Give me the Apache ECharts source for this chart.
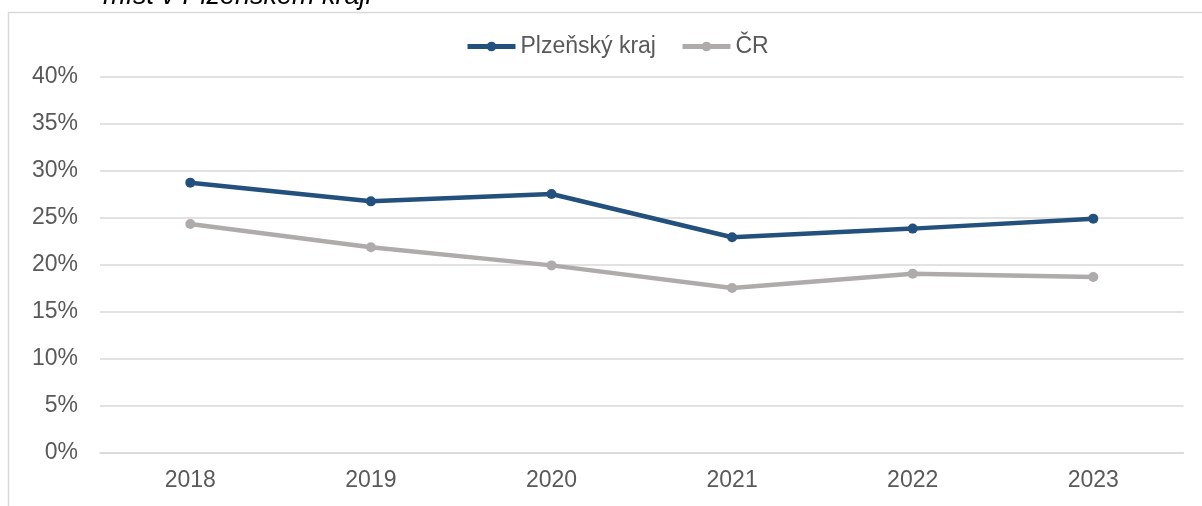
<!DOCTYPE html>
<html>
<head>
<meta charset="utf-8">
<script src="https://cdn.jsdelivr.net/npm/echarts@6/dist/echarts.min.js"></script>
<style>
html,body{margin:0;padding:0;background:#fff;}
#chart{width:1202px;height:506px;}
</style>
</head>
<body>
<div id="chart"></div>
<script>
const categories = ['2018', '2019', '2020', '2021', '2022', '2023'];
const plzenskyKraj = [28.76, 26.77, 27.55, 22.95, 23.87, 24.93];
const cr = [24.36, 21.88, 19.96, 17.55, 19.08, 18.72];
const seriesNames = ['Plzeňský kraj', 'ČR'];
const titleText = 'míst v Plzeňském kraji';

const chart = echarts.init(document.getElementById('chart'), null, {renderer: 'canvas'});
const font = '"Liberation Sans", Arial, sans-serif';
chart.setOption({
  animation: false,
  backgroundColor: '#ffffff',
  textStyle: {fontFamily: font},
  graphic: [
    {type: 'rect', shape: {x: 8.5, y: 12.5, width: 1400, height: 700},
     style: {fill: 'none', stroke: '#d9d9d9', lineWidth: 1.5}, silent: true},
    {type: 'text', left: 103, top: -17,
     style: {text: titleText, font: 'italic 27px "Liberation Sans", Arial, sans-serif', fill: '#000000'}}
  ],
  legend: {
    top: 35,
    left: 465,
    padding: 0,
    itemWidth: 48,
    itemHeight: 12,
    itemGap: 24,
    lineStyle: {width: 5},
    textStyle: {fontSize: 23, color: '#595959', fontFamily: font},
    data: seriesNames
  },
  grid: {left: 100, right: 18.4, top: 77, bottom: 53, containLabel: false},
  xAxis: {
    type: 'category',
    data: categories,
    boundaryGap: true,
    axisLine: {show: true, lineStyle: {color: '#d9d9d9', width: 1.5}},
    axisTick: {show: false},
    axisLabel: {fontSize: 23, color: '#595959', margin: 16, fontFamily: font}
  },
  yAxis: {
    type: 'value',
    min: 0,
    max: 40,
    interval: 5,
    axisLine: {show: false},
    axisTick: {show: false},
    axisLabel: {fontSize: 23, color: '#595959', margin: 22, formatter: v => v + '%', fontFamily: font},
    splitLine: {lineStyle: {color: '#d9d9d9', width: 1.5}}
  },
  series: [
    {name: seriesNames[0], type: 'line', data: plzenskyKraj, symbol: 'circle', symbolSize: 10,
     lineStyle: {width: 4.5, color: '#23507c'}, itemStyle: {color: '#23507c'}},
    {name: seriesNames[1], type: 'line', data: cr, symbol: 'circle', symbolSize: 10,
     lineStyle: {width: 4.5, color: '#afabab'}, itemStyle: {color: '#afabab'}}
  ]
});
</script>
</body>
</html>
